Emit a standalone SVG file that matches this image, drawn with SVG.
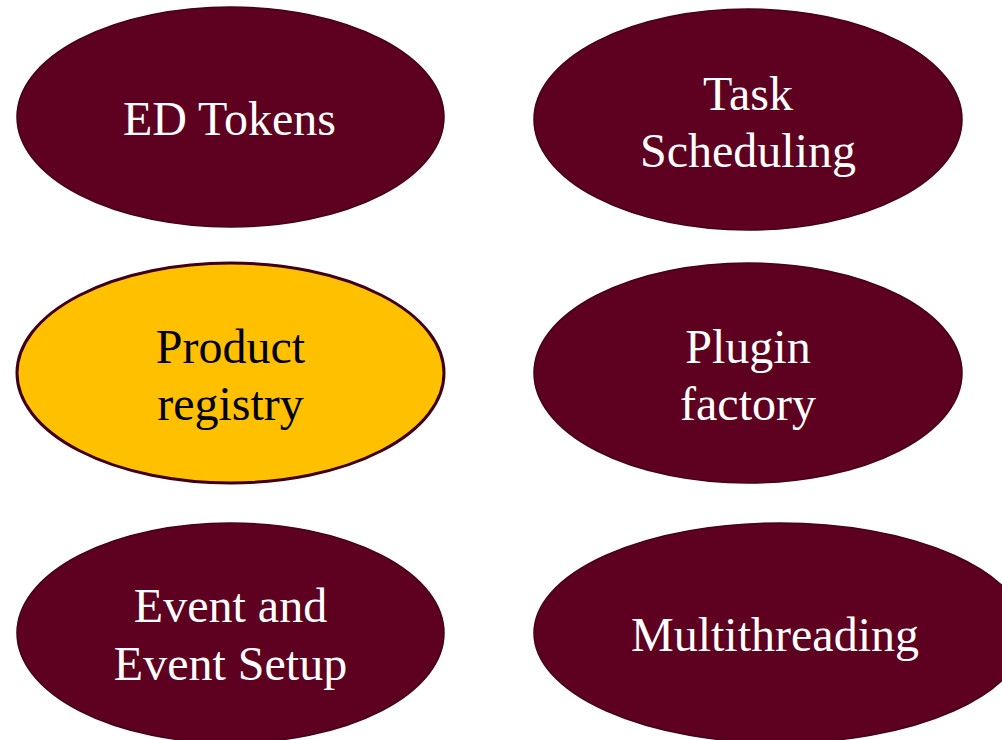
<svg xmlns="http://www.w3.org/2000/svg" width="1002" height="740" viewBox="0 0 1002 740">
<style>
.n{fill:#5e0020;stroke:#45001a;stroke-width:1.5}
.h{fill:#ffc000;stroke:#3f0015;stroke-width:3}
text{font-family:"Liberation Serif","Times New Roman",serif;font-size:48px;text-anchor:middle}
.w{fill:#ffffff}
.b{fill:#000000}
</style>
<rect width="1002" height="740" fill="#ffffff"/>
<g id="connectors"></g>
<g id="ed-tokens"><ellipse class="n" cx="230.5" cy="117" rx="213.5" ry="110"/><text class="w" x="229.5" y="135">ED Tokens</text></g>
<g id="task-scheduling"><ellipse class="n" cx="748" cy="119.5" rx="214" ry="110.5"/><text class="w" x="748" y="110">Task</text><text class="w" x="748" y="167">Scheduling</text></g>
<g id="product-registry"><ellipse class="h" cx="230.5" cy="373" rx="213.5" ry="110"/><text class="b" x="230.5" y="363">Product</text><text class="b" x="230.5" y="420">registry</text></g>
<g id="plugin-factory"><ellipse class="n" cx="748" cy="373" rx="214" ry="110"/><text class="w" x="748" y="363">Plugin</text><text class="w" x="748" y="420">factory</text></g>
<g id="event-setup"><ellipse class="n" cx="230.5" cy="633" rx="213.5" ry="110"/><text class="w" x="230.5" y="622">Event and</text><text class="w" x="230.5" y="680">Event Setup</text></g>
<g id="multithreading"><ellipse class="n" cx="780" cy="633" rx="246" ry="110"/><text class="w" x="775" y="651">Multithreading</text></g>
</svg>
